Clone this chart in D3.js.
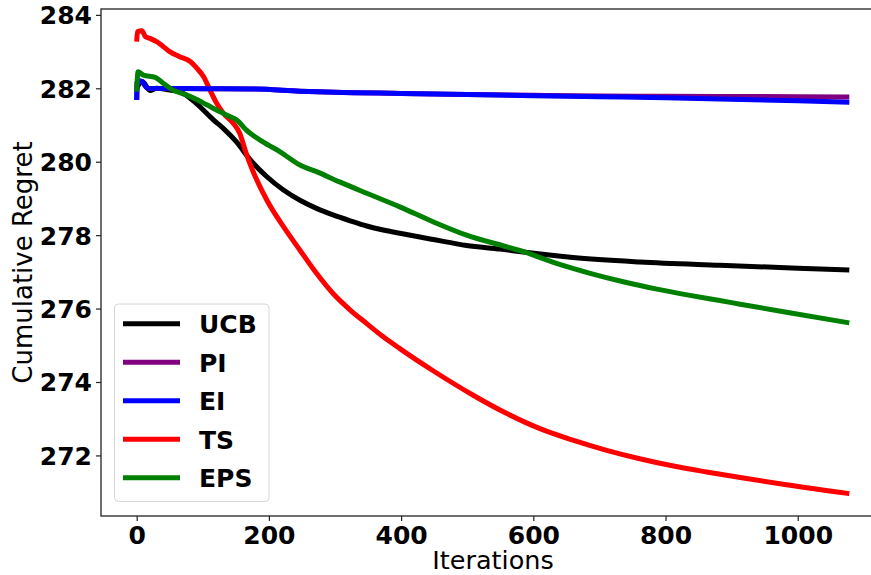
<!DOCTYPE html>
<html>
<head>
<meta charset="utf-8">
<script src="https://cdn.jsdelivr.net/npm/d3@7"></script>
<style>
  html, body { margin: 0; padding: 0; background: #fff; }
  svg { display: block; font-family: "DejaVu Sans", sans-serif; }
</style>
</head>
<body>
<svg id="chart" width="871" height="575"></svg>
<script>
// Cumulative regret per method as [iteration, value]
const ucb = [
  [0, 282.0], [3, 282.1], [9, 282.18], [20, 281.94], [30, 282.0], [50, 281.95], [65, 281.91],
  [90, 281.59], [116, 281.14], [131, 280.91], [151, 280.54], [171, 280.07], [197, 279.59],
  [222, 279.23], [247, 278.95], [272, 278.73], [297, 278.55], [323, 278.39], [348, 278.25],
  [373, 278.14], [398, 278.05], [449, 277.88], [499, 277.72], [550, 277.62], [585, 277.54],
  [660, 277.39], [761, 277.27], [882, 277.18], [1000, 277.1], [1078, 277.05]
];
const pi = [
  [0, 281.68], [1, 282.2], [7, 282.19], [17, 282.0], [100, 281.99], [180, 281.98], [247, 281.92],
  [300, 281.89], [400, 281.86], [500, 281.83], [600, 281.81], [700, 281.79], [800, 281.785],
  [882, 281.78], [1000, 281.77], [1078, 281.76]
];
const ei = [
  [0, 281.68], [1, 282.2], [7, 282.19], [17, 282.0], [100, 281.99], [180, 281.98], [247, 281.92],
  [300, 281.89], [400, 281.86], [500, 281.83], [600, 281.8], [700, 281.77], [800, 281.74],
  [882, 281.71], [1000, 281.66], [1078, 281.62]
];
const ts = [
  [0, 283.27], [1, 283.54], [8, 283.57], [13, 283.41], [20, 283.36], [30, 283.27], [40, 283.14],
  [50, 283.0], [65, 282.86], [81, 282.73], [91, 282.55], [101, 282.32], [111, 281.95],
  [121, 281.59], [131, 281.32], [146, 281.05], [156, 280.77], [164, 280.32], [171, 279.96],
  [197, 278.95], [222, 278.23], [247, 277.59], [272, 276.96], [297, 276.41], [323, 275.96],
  [348, 275.59], [373, 275.23], [398, 274.91], [449, 274.3], [509, 273.64], [560, 273.14],
  [610, 272.73], [661, 272.41], [711, 272.14], [761, 271.91], [812, 271.71], [862, 271.55],
  [913, 271.4], [983, 271.2], [1078, 270.96]
];
const eps = [
  [0, 281.91], [2, 282.45], [10, 282.36], [28, 282.3], [40, 282.14], [55, 281.95], [75, 281.82],
  [90, 281.7], [106, 281.55], [126, 281.36], [141, 281.23], [151, 281.14], [166, 280.86],
  [191, 280.54], [217, 280.27], [247, 279.91], [272, 279.73], [307, 279.45], [348, 279.14],
  [398, 278.77], [449, 278.36], [499, 278.0], [560, 277.68], [585, 277.55], [635, 277.23],
  [686, 276.96], [736, 276.73], [787, 276.53], [837, 276.36], [882, 276.22], [913, 276.12],
  [983, 275.9], [1078, 275.61]
];

const legendNames = ['UCB', 'PI', 'EI', 'TS', 'EPS'];
const colors = { UCB: '#000000', PI: '#800080', EI: '#0000ff', TS: '#ff0000', EPS: '#008000' };
const seriesByName = { UCB: ucb, PI: pi, EI: ei, TS: ts, EPS: eps };
const drawOrder = ['UCB', 'TS', 'PI', 'EI', 'EPS'];
const xTicks = [0, 200, 400, 600, 800, 1000];
const yTicks = [272, 274, 276, 278, 280, 282, 284];

const svg = d3.select('#chart');
const plotLeft = 101, plotRight = 885, plotTop = 9, plotBottom = 516;

const x = d3.scaleLinear().domain([-54, 1132]).range([plotLeft, plotRight]);
const y = d3.scaleLinear().domain([270.35, 284.16]).range([plotBottom, plotTop]);

// axes
const xAxis = svg.append('g')
  .attr('transform', `translate(0,${plotBottom})`)
  .call(d3.axisBottom(x).tickValues(xTicks).tickSize(5).tickPadding(3).tickFormat(d3.format('d')));
const yAxis = svg.append('g')
  .attr('transform', `translate(${plotLeft},0)`)
  .call(d3.axisLeft(y).tickValues(yTicks).tickSize(5).tickPadding(4).tickFormat(d3.format('d')));

[xAxis, yAxis].forEach(g => {
  g.select('.domain').remove();
  g.selectAll('.tick line').attr('stroke', '#222').attr('stroke-width', 1.2);
  g.selectAll('.tick text')
    .attr('fill', '#000')
    .style('font-family', '"DejaVu Sans", sans-serif')
    .style('font-size', '25px')
    .style('font-weight', 'bold');
});
xAxis.selectAll('.tick text').attr('dy', '0.8em');
yAxis.selectAll('.tick text').attr('dy', '0.36em');

// spines
svg.append('rect')
  .attr('x', plotLeft).attr('y', plotTop)
  .attr('width', plotRight - plotLeft).attr('height', plotBottom - plotTop)
  .attr('fill', 'none').attr('stroke', '#222').attr('stroke-width', 1.3);

// lines
const line = d3.line().x(d => x(d[0])).y(d => y(d[1])).curve(d3.curveMonotoneX);
const gLines = svg.append('g');
drawOrder.forEach(name => {
  gLines.append('path')
    .datum(seriesByName[name])
    .attr('d', line)
    .attr('fill', 'none')
    .attr('stroke', colors[name])
    .attr('stroke-width', 5)
    .attr('stroke-linejoin', 'round');
});

// axis labels
svg.append('text')
  .attr('x', (plotLeft + plotRight) / 2).attr('y', 569)
  .attr('text-anchor', 'middle')
  .style('font-size', '25.5px')
  .text('Iterations');
svg.append('text')
  .attr('transform', `translate(32,${(plotTop + plotBottom) / 2}) rotate(-90)`)
  .attr('text-anchor', 'middle')
  .style('font-size', '26px')
  .text('Cumulative Regret');

// legend
const gLeg = svg.append('g');
gLeg.append('rect')
  .attr('x', 114.5).attr('y', 304).attr('width', 154.5).attr('height', 197.5)
  .attr('rx', 4).attr('fill', '#fff').attr('fill-opacity', 0.8)
  .attr('stroke', '#d6d6d6').attr('stroke-width', 1);
legendNames.forEach((name, i) => {
  const ly = 323.7 + i * 38.5;
  gLeg.append('line')
    .attr('x1', 123).attr('x2', 180).attr('y1', ly).attr('y2', ly)
    .attr('stroke', colors[name]).attr('stroke-width', 5);
  gLeg.append('text')
    .attr('x', 199).attr('y', ly + 9.5)
    .style('font-size', '25px').style('font-weight', 'bold')
    .text(name);
});
</script>
</body>
</html>
